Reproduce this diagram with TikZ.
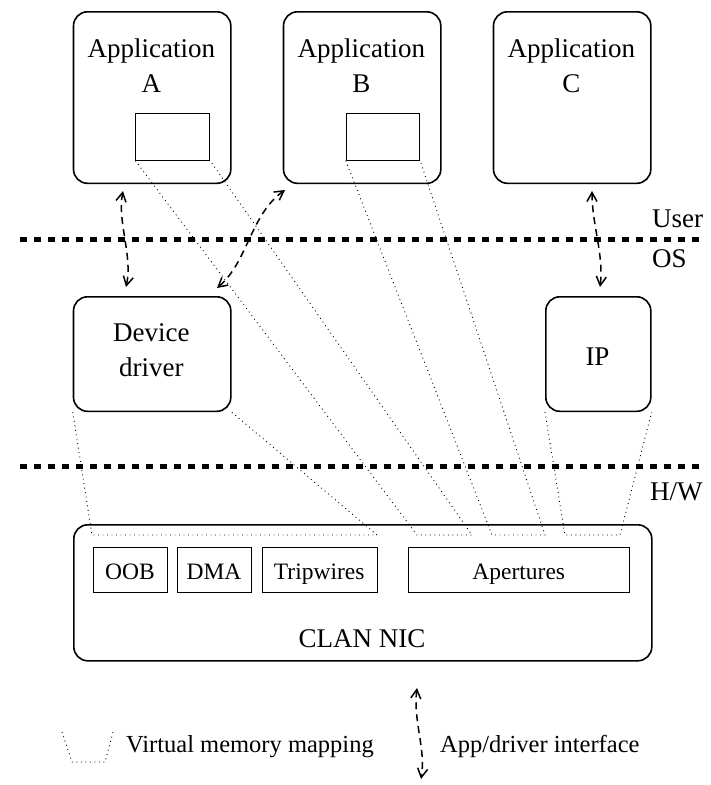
\documentclass[tikz,border=0pt]{standalone}
\usepackage{fontspec}
\setmainfont{Liberation Serif}
\usetikzlibrary{arrows.meta}
\begin{document}
\begin{tikzpicture}[x=1pt,y=-1pt,
  bigbox/.style={draw,line width=1.6pt,rounded corners=14pt,inner sep=0pt,anchor=north west},
  inbox/.style={draw,line width=0.8pt,inner sep=0pt,anchor=north west},
  lbl/.style={inner sep=0pt,anchor=base,font=\fontsize{27}{32}\selectfont},
  sidelbl/.style={inner sep=0pt,anchor=base west,font=\fontsize{27}{32}\selectfont},
  smalllbl/.style={inner sep=0pt,anchor=base,font=\fontsize{23.5}{28}\selectfont},
  leglbl/.style={inner sep=0pt,anchor=base west,font=\fontsize{24.5}{29}\selectfont},
  sep/.style={line width=5.5pt,dash pattern=on 7pt off 7pt},
  vmm/.style={line width=0.9pt,dash pattern=on 0.9pt off 3.6pt},
  iface/.style={line width=1.5pt,dash pattern=on 7pt off 5pt,{Straight Barb[length=9pt,width=10pt,line width=1.5pt]}-{Straight Barb[length=9pt,width=10pt,line width=1.5pt]}}
]
\useasboundingbox (0,0) rectangle (711,785);

% separator lines
\coordinate (s1a) at (20,239.5); \coordinate (s1b) at (700,239.5);
\coordinate (s2a) at (20,466.5); \coordinate (s2b) at (700,466.5);
\draw[sep] (s1a) -- (s1b);
\draw[sep] (s2a) -- (s2b);

% applications
\node[bigbox,minimum width=157.3pt,minimum height=171.5pt] (appA) at (72.7,11) {};
\node[bigbox,minimum width=157.3pt,minimum height=171.5pt] (appB) at (282.7,11) {};
\node[bigbox,minimum width=157.3pt,minimum height=171.5pt] (appC) at (492.7,11) {};
\node[lbl] (tA1) at (151.3,57) {Application};
\node[lbl] (tA2) at (151.3,92) {A};
\node[lbl] (tB1) at (361.3,57) {Application};
\node[lbl] (tB2) at (361.3,92) {B};
\node[lbl] (tC1) at (571.3,57) {Application};
\node[lbl] (tC2) at (571.3,92) {C};
\node[inbox,minimum width=74pt,minimum height=46.5pt] (rA) at (135.3,113.3) {};
\node[inbox,minimum width=73.6pt,minimum height=46.5pt] (rB) at (345.7,113.3) {};

% OS level
\node[bigbox,minimum width=157.3pt,minimum height=114.5pt] (dd) at (72.7,296) {};
\node[lbl] (dd1) at (151.3,341) {Device};
\node[lbl] (dd2) at (151.3,376) {driver};
\node[bigbox,minimum width=105pt,minimum height=114.5pt] (ip) at (545,296) {};
\node[lbl] (ipt) at (597.5,365) {IP};

% NIC
\node[bigbox,minimum width=578pt,minimum height=136pt] (nic) at (73,524) {};
\node[inbox,minimum width=73.4pt,minimum height=45.6pt] (oob) at (93.3,546.7) {};
\node[inbox,minimum width=74pt,minimum height=45.6pt] (dma) at (177,546.7) {};
\node[inbox,minimum width=115pt,minimum height=45.6pt] (trip) at (261.7,546.7) {};
\node[inbox,minimum width=221pt,minimum height=45.6pt] (ap) at (408.3,546.7) {};
\node[smalllbl] at (130,579) (oobt) {OOB};
\node[smalllbl] at (214,579) (dmat) {DMA};
\node[smalllbl] at (319.2,579) (tript) {Tripwires};
\node[smalllbl] at (518.8,579) (apt) {Apertures};
\node[lbl] (nict) at (362,647) {CLAN NIC};

% side labels
\node[sidelbl] (user) at (652,227) {User};
\node[sidelbl] (os) at (652,267) {OS};
\node[sidelbl] (hw) at (650,500) {H/W};

% virtual memory mappings
\coordinate (m1) at (92,535); \coordinate (m2) at (377,535);
\coordinate (m3) at (417,535); \coordinate (m4) at (472,535);
\coordinate (m5) at (492,535); \coordinate (m6) at (545,535);
\coordinate (m7) at (565,535); \coordinate (m8) at (620,535);
\draw[vmm] (dd.south west) -- (m1) -- (m2) -- (dd.south east);
\draw[vmm] (rA.south west) -- (m3) -- (m4) -- (rA.south east);
\draw[vmm] (rB.south west) -- (m5) -- (m6) -- (rB.south east);
\draw[vmm] (ip.south west) -- (m7) -- (m8) -- (ip.south east);

% app/driver interfaces
\coordinate (aA) at (123,191); \coordinate (aD) at (126,287);
\draw[iface] (aA) .. controls (117,222) and (133,256) .. (aD);
\coordinate (aB) at (285,190); \coordinate (aD2) at (217,288);
\draw[iface] (aB) .. controls (250,215) and (248,262) .. (aD2);
\coordinate (aC) at (592,191); \coordinate (aI) at (600,287);
\draw[iface] (aC) .. controls (592,225) and (604,255) .. (aI);

% legend
\coordinate (g1) at (62,732); \coordinate (g2) at (72,762);
\coordinate (g3) at (105,762); \coordinate (g4) at (113,732);
\draw[vmm] (g1) -- (g2) -- (g3) -- (g4);
\node[leglbl] (legv) at (126,752) {Virtual memory mapping};
\coordinate (gaT) at (417,688); \coordinate (gaB) at (421,779);
\draw[iface] (gaT) .. controls (413,722) and (426,748) .. (gaB);
\node[leglbl] (lega) at (440,752) {App/driver interface};
\end{tikzpicture}
\end{document}
